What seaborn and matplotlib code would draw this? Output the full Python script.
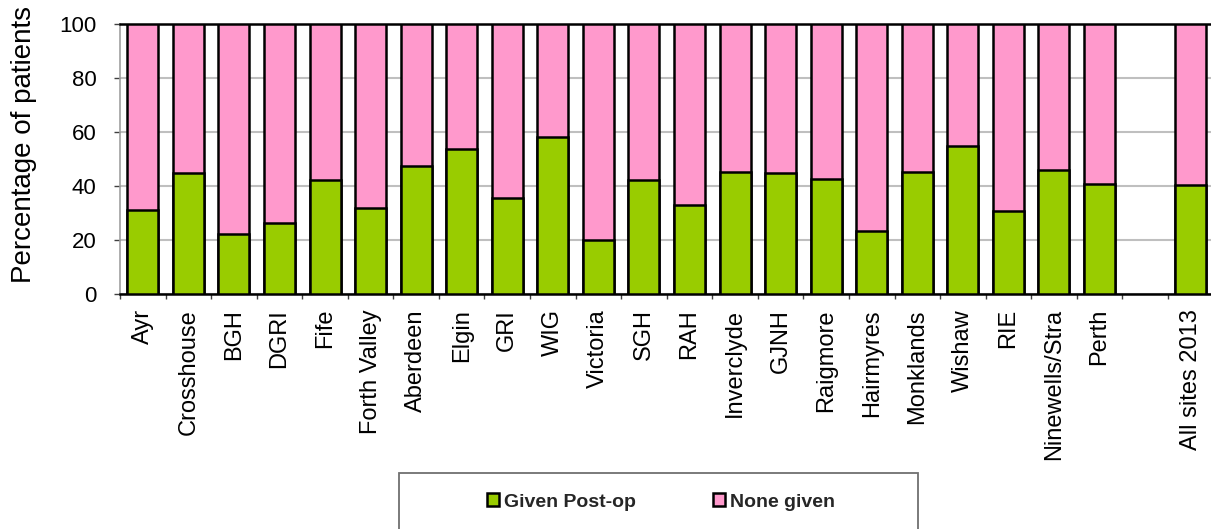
import matplotlib
matplotlib.use("Agg")
import matplotlib.pyplot as plt
import seaborn as sns
import pandas as pd
from matplotlib.patches import Patch, Rectangle
from matplotlib.ticker import MultipleLocator, FixedLocator

sites = ["Ayr", "Crosshouse", "BGH", "DGRI", "Fife", "Forth Valley", "Aberdeen",
         "Elgin", "GRI", "WIG", "Victoria", "SGH", "RAH", "Inverclyde", "GJNH",
         "Raigmore", "Hairmyres", "Monklands", "Wishaw", "RIE", "Ninewells/Stra",
         "Perth", "All sites 2013"]
given_postop = [31.1, 44.8, 22.1, 26.2, 42.1, 31.7, 47.4, 53.8, 35.7, 58.1, 20.0,
                42.2, 32.8, 45.3, 44.8, 42.5, 23.3, 45.1, 54.9, 30.7, 45.8, 40.6, 40.2]
none_given = [100 - v for v in given_postop]
order = sites[:-1] + [" "] + sites[-1:]

sns.set_theme(style="white")
plt.rcParams['font.family'] = ['Liberation Sans', 'DejaVu Sans']

df = pd.DataFrame({"site": sites, "given": given_postop, "none": none_given})
df["total"] = df["given"] + df["none"]

fig = plt.figure(figsize=(12.11, 5.29), dpi=100)
ax = fig.add_axes([120/1211, 1 - 294/529, 1 - 120/1211 + 0.002, 270/529])

green = "#99CC00"
pink = "#FF99CC"
sns.barplot(data=df, x="site", y="total", order=order, color=pink, width=0.68,
            edgecolor="black", linewidth=1.8, saturation=1, ax=ax, zorder=3)
sns.barplot(data=df, x="site", y="given", order=order, color=green, width=0.68,
            edgecolor="black", linewidth=1.8, saturation=1, ax=ax, zorder=4)

ax.set_ylim(0, 100)
ax.set_xlim(-0.5, len(order) - 0.5)
ax.yaxis.set_major_locator(MultipleLocator(20))
ax.grid(axis="y", color="#BFBFBF", linewidth=1.5, zorder=0)
ax.set_axisbelow(True)

ax.set_xlabel("")
ax.set_ylabel("Percentage of patients", fontsize=20, color="black")
ax.yaxis.set_label_coords(-0.076, 0.555)
ax.set_xticks(range(len(order)))
ax.set_xticklabels(order, rotation=90, fontsize=17, color="black")
ax.tick_params(axis="x", which="major", length=0, pad=10.8)
ax.xaxis.set_minor_locator(FixedLocator([i - 0.5 for i in range(len(order) + 1)]))
ax.tick_params(axis="x", which="minor", length=3.6, width=1, color="#404040", bottom=True)
ax.tick_params(axis="y", which="major", length=4.3, width=1, color="#404040",
               labelsize=16, labelcolor="black", left=True, pad=12.5)

for side in ["top", "right", "bottom"]:
    ax.spines[side].set_color("black")
    ax.spines[side].set_linewidth(1.8)
    ax.spines[side].set_visible(True)
ax.spines["left"].set_color("#A0A0A0")
ax.spines["left"].set_linewidth(1.2)
ax.spines["left"].set_visible(True)

handles = [Patch(facecolor=green, edgecolor="black", linewidth=1.8, label="Given Post-op"),
           Patch(facecolor=pink, edgecolor="black", linewidth=1.8, label="None given")]
fig.legend(handles=handles, loc="center", bbox_to_anchor=(661/1211, 1 - 502/529),
           ncol=2, frameon=False, prop={"weight": "bold", "size": 14},
           handlelength=0.6, handleheight=0.6, handletextpad=0.25, columnspacing=4.0)
fig.add_artist(Rectangle((399/1211, -0.01), 519/1211, (529 - 473)/529 + 0.01,
                         transform=fig.transFigure, fill=False, edgecolor="#707070",
                         linewidth=1.3))

fig.savefig("out.png", dpi=100)
